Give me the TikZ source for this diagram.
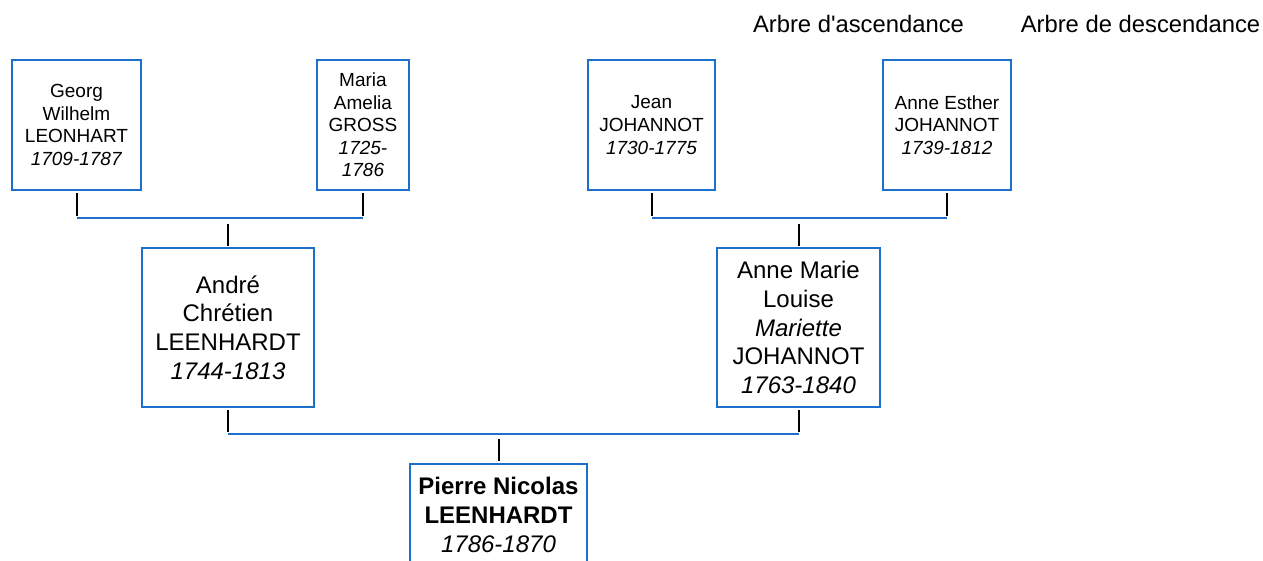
\documentclass[tikz,border=0pt]{standalone}
\usepackage{fontspec}
\setmainfont{Liberation Sans}
\usepackage{tikz}
\usetikzlibrary{positioning}
\definecolor{lnblue}{RGB}{28,112,204}
\tikzset{
  sp/.style={rectangle,draw=lnblue,line width=1.4pt,outer sep=0pt,inner sep=3pt,minimum height=130pt,align=center,font=\fontsize{19}{22.6}\selectfont},
  bp/.style={rectangle,draw=lnblue,line width=1.4pt,outer sep=0pt,inner sep=3pt,minimum height=159pt,align=center,font=\fontsize{24}{28.6}\selectfont},
  lnk/.style={draw=lnblue,line width=1.5pt},
  tck/.style={draw=black,line width=2pt},
  hd/.style={anchor=base,font=\fontsize{23.8}{28}\selectfont},
}
\begin{document}
\begin{tikzpicture}[x=1pt,y=-1pt]
  \path[use as bounding box,clip] (0,0) rectangle (1263,560);
  \node[hd] (asc) at (858.5,32) {Arbre d\textquotesingle ascendance};
  \node[hd] (desc) at (1140.5,32) {Arbre de descendance};
  % grand-parents
  \node[sp,minimum width=129pt] (georg) at (76.5,125) {Georg\\Wilhelm\\LEONHART\\\textit{1709-1787}};
  \node[sp,minimum width=92pt,right=176pt of georg] (maria) {Maria\\Amelia\\GROSS\\\textit{1725-}\\\textit{1786}};
  \node[sp,minimum width=127pt,right=179pt of maria] (jean) {Jean\\JOHANNOT\\\textit{1730-1775}};
  \node[sp,minimum width=128pt,right=168pt of jean] (esther) {Anne Esther\\JOHANNOT\\\textit{1739-1812}};
  % parents
  \node[bp,minimum width=172pt] (andre) at (228,327.5) {Andr\'e\\Chr\'etien\\LEENHARDT\\\textit{1744-1813}};
  \node[bp,minimum width=163pt,right=403pt of andre] (mariette) {Anne Marie\\Louise\\\textit{Mariette}\\JOHANNOT\\\textit{1763-1840}};
  \node[bp,minimum width=177pt,minimum height=102pt,anchor=north] (pierre) at (498.5,464) {\textbf{Pierre Nicolas}\\\textbf{LEENHARDT}\\\textit{1786-1870}};
  \coordinate (jt) at (0,218); \coordinate (jb) at (0,434);
  % links
  \draw[tck] ([yshift=-3pt]georg.south) -- ([yshift=2pt]georg |- jt); \draw[tck] ([yshift=-3pt]maria.south) -- ([yshift=2pt]maria |- jt);
  \draw[lnk] (georg |- jt) -- (maria |- jt); \draw[tck] ([yshift=-6pt]andre |- jt) -- ([yshift=2pt]andre.north);
  \draw[tck] ([yshift=-3pt]jean.south) -- ([yshift=2pt]jean |- jt); \draw[tck] ([yshift=-3pt]esther.south) -- ([yshift=2pt]esther |- jt);
  \draw[lnk] (jean |- jt) -- (esther |- jt); \draw[tck] ([yshift=-6pt]mariette |- jt) -- ([yshift=2pt]mariette.north);
  \draw[tck] ([yshift=-3pt]andre.south) -- ([yshift=2pt]andre |- jb); \draw[tck] ([yshift=-3pt]mariette.south) -- ([yshift=2pt]mariette |- jb);
  \draw[lnk] (andre |- jb) -- (mariette |- jb); \draw[tck] ([yshift=-5pt]pierre |- jb) -- ([yshift=3pt]pierre.north);
\end{tikzpicture}
\end{document}
